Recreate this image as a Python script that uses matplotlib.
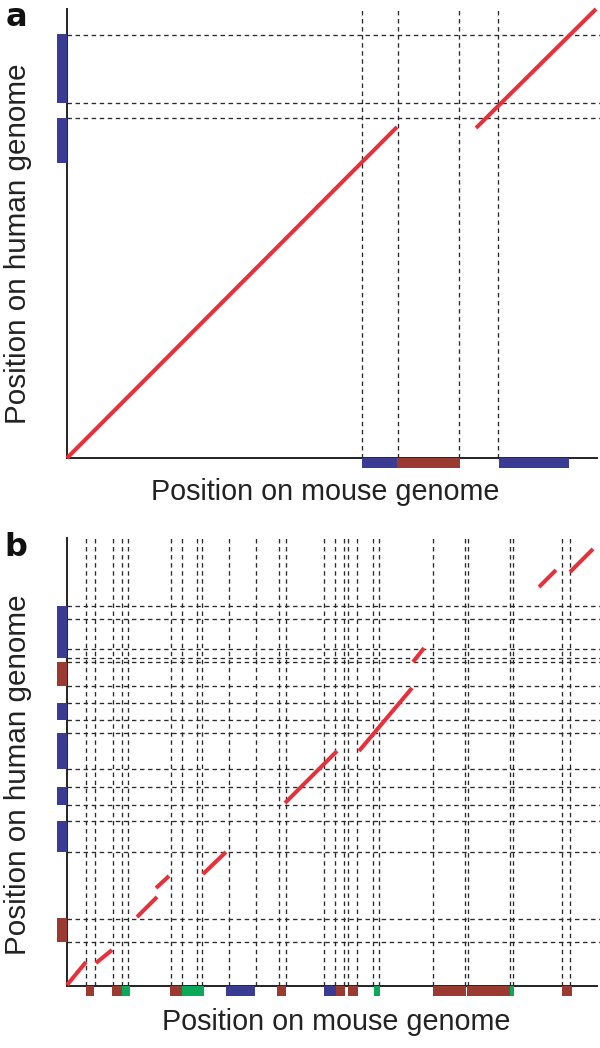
import matplotlib
matplotlib.use("Agg")
import matplotlib.pyplot as plt
from matplotlib.patches import Rectangle

plt.rcParams['font.family'] = ['Liberation Sans', 'DejaVu Sans']
plt.rcParams['lines.scale_dashes'] = False

W, H = 600, 1048

BLUE = '#3a3c94'
BROWN = '#9b3a31'
GREEN = '#0aa859'
RED = '#e8303a'

# ---------------- Panel a data (genome position units) ----------------
a_vlines = [295, 331, 392, 431]
a_hlines = [340, 355, 423]
a_mouse_start = [295, 330, 432]
a_mouse_end = [330, 393, 502]
a_mouse_color = ['blue', 'brown', 'blue']
a_human_start = [355, 295]
a_human_end = [424, 340]
a_human_color = ['blue', 'blue']
a_seg_x0 = [0, 409]
a_seg_y0 = [0, 330]
a_seg_x1 = [330, 529]
a_seg_y1 = [331, 449]

# ---------------- Panel b data ----------------
b_vlines = [19, 28, 46, 55, 61, 104, 115, 130, 135, 162, 189, 212, 219,
            257, 268, 277, 281, 290, 306, 312, 366, 398, 401, 443, 446, 495, 503]
b_hlines = [380, 367, 337, 328, 324, 300, 283, 266, 253, 217, 199, 181,
            165, 134, 67, 44]
b_mouse_start = [19, 45, 55, 103, 115, 159, 210, 257, 269, 281, 307, 366, 400, 443, 495]
b_mouse_end = [27, 55, 63, 115, 137, 188, 219, 269, 278, 291, 313, 399, 443, 447, 505]
b_mouse_color = ['brown', 'brown', 'green', 'brown', 'green', 'blue', 'brown', 'blue',
                 'brown', 'brown', 'green', 'brown', 'brown', 'green', 'brown']
b_human_start = [328, 300, 266, 217, 181, 134, 44]
b_human_end = [380, 324, 283, 253, 199, 165, 68]
b_human_color = ['blue', 'brown', 'blue', 'blue', 'blue', 'blue', 'brown']
b_seg_x0 = [0, 29, 70, 89, 136, 218, 292, 346, 472, 503]
b_seg_y0 = [1, 23, 69, 98, 112, 183, 235, 324, 399, 414]
b_seg_x1 = [19, 45, 90, 102, 159, 270, 345, 357, 489, 526]
b_seg_y1 = [24, 36, 89, 110, 134, 235, 298, 338, 416, 437]

COLORS = {'blue': BLUE, 'brown': BROWN, 'green': GREEN}

fig = plt.figure(figsize=(W / 100, H / 100), dpi=100)


def px_axes(left, top, right, bottom):
    return fig.add_axes([left / W, 1 - bottom / H, (right - left) / W, (bottom - top) / H])


def draw_panel(ax, xmax, ymax, vlines, hlines, ms, me, mc, hs, he, hc,
               sx0, sy0, sx1, sy1):
    ax.set_xlim(0, xmax)
    ax.set_ylim(0, ymax)
    for s in ['top', 'right']:
        ax.spines[s].set_visible(False)
    for s in ['left', 'bottom']:
        ax.spines[s].set_linewidth(1.4)
        ax.spines[s].set_color('#222222')
    ax.set_xticks([])
    ax.set_yticks([])
    for v in vlines:
        ax.plot([v, v], [0, ymax], color='#2a2a2a', lw=0.95,
                linestyle=(0, (3.2, 2.6)), zorder=1, clip_on=False)
    for h in hlines:
        ax.plot([0, xmax + 3], [h, h], color='#2a2a2a', lw=0.95,
                linestyle=(0, (3.2, 2.6)), zorder=1, clip_on=False)
    for s, e, c in zip(ms, me, mc):
        ax.add_patch(Rectangle((s, -10), e - s, 10, facecolor=COLORS[c],
                               edgecolor='none', clip_on=False, zorder=3))
    for s, e, c in zip(hs, he, hc):
        ax.add_patch(Rectangle((-10, s), 10, e - s, facecolor=COLORS[c],
                               edgecolor='none', clip_on=False, zorder=3))
    for x0, y0, x1, y1 in zip(sx0, sy0, sx1, sy1):
        ax.plot([x0, x1], [y0, y1], color=RED, lw=2.9, solid_capstyle='butt',
                zorder=4, clip_on=False)


ax_a = px_axes(67, 9, 597, 458)
draw_panel(ax_a, 530, 449, a_vlines, a_hlines, a_mouse_start, a_mouse_end,
           a_mouse_color, a_human_start, a_human_end, a_human_color,
           a_seg_x0, a_seg_y0, a_seg_x1, a_seg_y1)

ax_b = px_axes(67, 538, 597, 986)
draw_panel(ax_b, 530, 448, b_vlines, b_hlines, b_mouse_start, b_mouse_end,
           b_mouse_color, b_human_start, b_human_end, b_human_color,
           b_seg_x0, b_seg_y0, b_seg_x1, b_seg_y1)


def ftext(x, y, s, **kw):
    fig.text(x / W, 1 - y / H, s, **kw)


ftext(325, 492, 'Position on mouse genome', fontsize=20.7, ha='center', va='center', color='#222222')
ftext(18, 244, 'Position on human genome', fontsize=21.3, ha='center', va='center',
      rotation=90, color='#222222')
ftext(336, 1022, 'Position on mouse genome', fontsize=20.7, ha='center', va='center', color='#222222')
ftext(18, 775, 'Position on human genome', fontsize=21.3, ha='center', va='center',
      rotation=90, color='#222222')
ftext(16, 17, 'a', fontsize=23, fontweight='bold', family='DejaVu Sans',
      ha='center', va='center', color='#111111')
ftext(16, 548, 'b', fontsize=23, fontweight='bold', family='DejaVu Sans',
      ha='center', va='center', color='#111111')

fig.savefig('out.png', dpi=100)
